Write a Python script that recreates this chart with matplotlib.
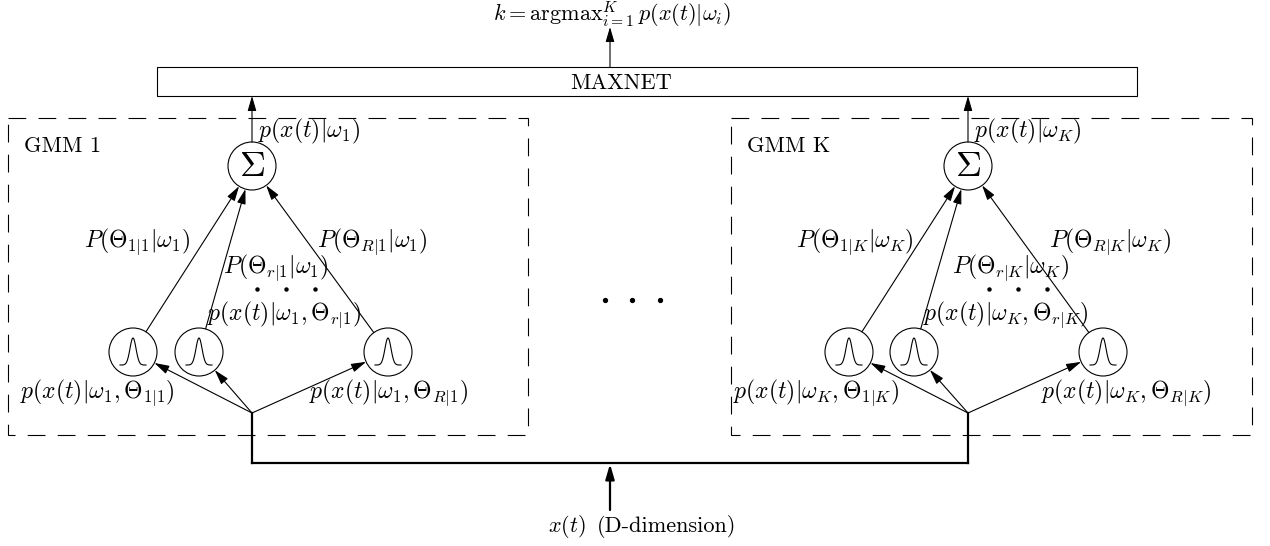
import numpy as np
import matplotlib.pyplot as plt
from matplotlib.patches import Rectangle, Circle, FancyArrowPatch

plt.rcParams['mathtext.fontset'] = 'cm'

# Etiquetas de cada bloque GMM
gmm_titulos = ['GMM 1', 'GMM K']
salida_gmm = [r'$p(x(t)|\omega_1)$', r'$p(x(t)|\omega_K)$']
pesos_1 = [r'$P(\Theta_{1|1}|\omega_1)$', r'$P(\Theta_{r|1}|\omega_1)$', r'$P(\Theta_{R|1}|\omega_1)$']
pesos_k = [r'$P(\Theta_{1|K}|\omega_K)$', r'$P(\Theta_{r|K}|\omega_K)$', r'$P(\Theta_{R|K}|\omega_K)$']
dens_1 = [r'$p(x(t)|\omega_1,\Theta_{1|1})$', r'$p(x(t)|\omega_1,\Theta_{r|1})$', r'$p(x(t)|\omega_1,\Theta_{R|1})$']
dens_k = [r'$p(x(t)|\omega_K,\Theta_{1|K})$', r'$p(x(t)|\omega_K,\Theta_{r|K})$', r'$p(x(t)|\omega_K,\Theta_{R|K})$']
salida = r'$k = \mathrm{argmax}_{i=1}^{K}\, p(x(t)|\omega_i)$'
entrada = r'$x(t)$'
entrada_txt = '(D-dimension)'
maxnet_txt = 'MAXNET'

R = 24  # radio de los nodos
LW = 0.8
FS = 16   # texto normal
FM = 17   # formulas

fig = plt.figure(figsize=(12.7, 5.46), dpi=100)
ax = fig.add_axes([0, 0, 1, 1])
ax.set_xlim(0, 1270)
ax.set_ylim(546, 0)
ax.axis('off')


def flecha(p0, p1, lw=LW):
    ax.add_patch(FancyArrowPatch(p0, p1, arrowstyle='-|>,head_length=0.75,head_width=0.22',
                                 mutation_scale=12, lw=lw, color='k', shrinkA=0, shrinkB=0))


def linea_entre(c0, c1):
    # segmento recortado entre dos circulos
    c0, c1 = np.array(c0, float), np.array(c1, float)
    u = (c1 - c0) / np.linalg.norm(c1 - c0)
    flecha(tuple(c0 + R * u), tuple(c1 - R * u))


def campana(cx, cy):
    xs = np.linspace(-13, 13, 80)
    ys = cy + 13 - 27 * np.exp(-(xs / 4.3) ** 2)
    ax.plot(cx + xs, ys, color='k', lw=LW)


def bloque(x0, x1, cs, gx, titulo, sal, pesos, dens, pos_pesos, pos_dens, cx_puntos):
    y0, y1 = 118, 435
    ax.add_patch(Rectangle((x0, y0), x1 - x0, y1 - y0, fill=False, lw=LW,
                           ls=(0, (16, 11)), ec='k'))
    ax.text(x0 + 16, 146, titulo, family='cmr10', fontsize=FS, va='center')
    sy, gy, fy = 166, 352, 413
    ax.add_patch(Circle((cs, sy), R, fill=False, lw=LW, ec='k'))
    ax.text(cs, sy, r'$\Sigma$', fontsize=26, ha='center', va='center')
    flecha((cs, sy - R), (cs, 96))
    ax.text(cs + 6, 131, sal, fontsize=FM, va='center')
    for g in gx:
        ax.add_patch(Circle((g, gy), R, fill=False, lw=LW, ec='k'))
        campana(g, gy)
        linea_entre((g, gy), (cs, sy))
        fan = np.array([cs, fy], float)
        u = (np.array([g, gy]) - fan) / np.linalg.norm(np.array([g, gy]) - fan)
        flecha((cs, fy), tuple(np.array([g, gy]) - R * u))
    for t, (px, py) in zip(pesos, pos_pesos):
        ax.text(px, py, t, fontsize=FM, ha='center', va='center')
    for t, (px, py) in zip(dens, pos_dens):
        ax.text(px, py, t, fontsize=FM, ha='center', va='center')
    ax.plot([cx_puntos - 29, cx_puntos, cx_puntos + 29], [289] * 3, 'o', ms=2.2, color='k')
    ax.plot([cs, cs], [fy, 463], color='k', lw=1.6)


bloque(8, 528, 252, [133, 199, 388], gmm_titulos[0], salida_gmm[0], pesos_1, dens_1,
       [(137, 242), (276, 268), (372, 242)], [(97, 393), (284, 315), (388, 393)], 286)
bloque(731, 1252, 968, [849, 914, 1103], gmm_titulos[1], salida_gmm[1], pesos_k, dens_k,
       [(855, 242), (1010, 268), (1110, 242)], [(816, 393), (1006, 315), (1126, 393)], 1018)

# MAXNET y salida
ax.add_patch(Rectangle((157, 67), 1137 - 157, 29, fill=False, lw=LW, ec='k'))
ax.text(621, 83, maxnet_txt, family='cmr10', fontsize=FS, ha='center', va='center')
flecha((610, 67), (610, 27))
ax.text(612, 15, salida, fontsize=16, ha='center', va='center')

# puntos suspensivos entre bloques
ax.plot([605, 632, 660], [300] * 3, 'o', ms=2.8, color='k')

# bus de entrada
ax.plot([252, 968], [463, 463], color='k', lw=1.6)
flecha((610, 510), (610, 464), lw=1.6)
ax.text(586, 527, entrada, fontsize=16, ha='right', va='center')
ax.text(597, 527, entrada_txt, family='cmr10', fontsize=FS, ha='left', va='center')

fig.savefig('out.png', dpi=100)
